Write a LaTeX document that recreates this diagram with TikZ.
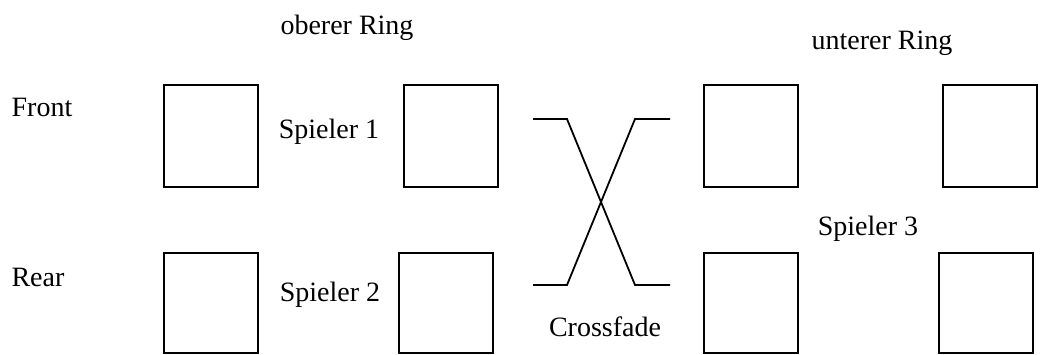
\documentclass[tikz,border=0pt]{standalone}
\usepackage{fontspec}
\setmainfont{Liberation Serif}
\begin{document}
\begin{tikzpicture}
  [x=0.5pt,y=-0.5pt,line width=0.9pt,
   every node/.style={font=\fontsize{14}{16}\selectfont},
   kanal/.style={draw,inner sep=0pt,minimum width=47pt,minimum height=50pt}]
  \useasboundingbox (0,0) rectangle (1040,354);
  \node (front) at (42,107) {Front};
  \node (rear) at (38,277) {Rear};
  \node (oben) at (347,28) {oberer Ring};
  \node (unten) at (882,43) {unterer Ring};
  \node (sp1) at (329,132) {Spieler 1};
  \node (sp2) at (330,295) {Spieler 2};
  \node (sp3) at (868,229) {Spieler 3};
  \node (xf) at (605,327) {Crossfade};

  \node (k1)[kanal,minimum height=51pt] at (211,136) {};
  \node (k2)[kanal,minimum height=51pt] at (451,136) {};
  \node (k3)[kanal,minimum height=51pt] at (751,136) {};
  \node (k4)[kanal,minimum height=51pt] at (990,136) {};
  \node (k5)[kanal] at (211,303) {};
  \node (k6)[kanal] at (446,303) {};
  \node (k7)[kanal] at (751,303) {};
  \node (k8)[kanal] at (986,303) {};

  \coordinate (a1) at (533,119);
  \coordinate (a2) at (567,119);
  \coordinate (a3) at (635,285);
  \coordinate (a4) at (670,285);
  \coordinate (b1) at (533,285);
  \coordinate (b2) at (567,285);
  \coordinate (b3) at (635,119);
  \coordinate (b4) at (670,119);

 \foreach \p in {a,b}
    \draw (\p1) -- (\p2) -- (\p3) -- (\p4);

\end{tikzpicture}
\end{document}
